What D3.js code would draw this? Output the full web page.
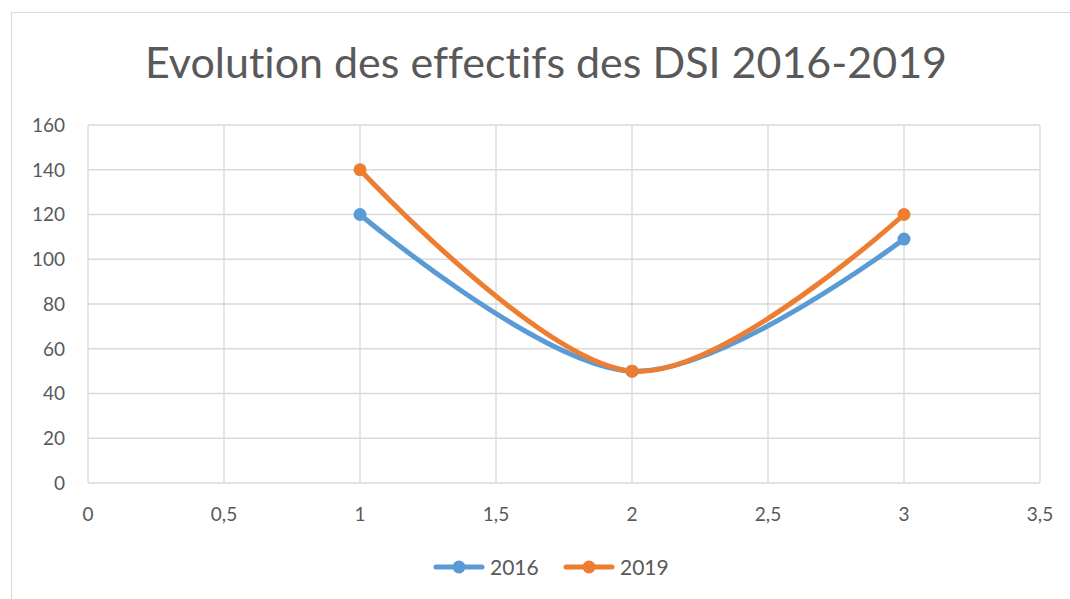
<!DOCTYPE html>
<html>
<head>
<meta charset="utf-8">
<script src="https://cdn.jsdelivr.net/npm/d3@7"></script>
<style>
  body { margin: 0; background: #fff; }
  text { font-family: Lato, "Open Sans", sans-serif; fill: #595959; font-variant-ligatures: none; }
</style>
</head>
<body>
<script>
const width = 1070;
const height = 599;

// data
const xValues = [1, 2, 3];
const series2016 = [120, 50, 109];
const series2019 = [140, 50, 120];
const seriesNames = ["2016", "2019"];
const seriesColors = ["#5B9BD5", "#ED7D31"];
const xTicks = [0, 0.5, 1, 1.5, 2, 2.5, 3, 3.5];
const yTicks = [0, 20, 40, 60, 80, 100, 120, 140, 160];

const margin = {left: 88, right: 30, top: 125, bottom: 116};

const svg = d3.select("body").append("svg")
  .attr("width", width)
  .attr("height", height);

// chart border
svg.append("rect")
  .attr("x", 11.5).attr("y", 12.5)
  .attr("width", width).attr("height", height)
  .attr("fill", "none")
  .attr("stroke", "#d9d9d9");

const x = d3.scaleLinear().domain([0, 3.5]).range([margin.left, width - margin.right]);
const y = d3.scaleLinear().domain([0, 160]).range([height - margin.bottom, margin.top]);

const fmt = d => String(d).replace(".", ",");

// grid
svg.append("g")
  .selectAll("line")
  .data(yTicks)
  .join("line")
  .attr("x1", x(0)).attr("x2", x(3.5))
  .attr("y1", d => y(d)).attr("y2", d => y(d))
  .attr("stroke", "#d9d9d9").attr("stroke-width", 1.3);

svg.append("g")
  .selectAll("line")
  .data(xTicks)
  .join("line")
  .attr("x1", d => x(d)).attr("x2", d => x(d))
  .attr("y1", y(0)).attr("y2", y(160))
  .attr("stroke", "#d9d9d9").attr("stroke-width", 1.3);

// y labels
svg.append("g")
  .selectAll("text")
  .data(yTicks)
  .join("text")
  .attr("x", 65)
  .attr("y", d => y(d))
  .attr("dy", "0.36em")
  .attr("text-anchor", "end")
  .style("font-size", "19px")
  .text(d => d);

// x labels
svg.append("g")
  .selectAll("text")
  .data(xTicks)
  .join("text")
  .attr("x", d => x(d))
  .attr("y", 521)
  .attr("text-anchor", "middle")
  .style("font-size", "19px")
  .text(fmt);

// title
svg.append("text")
  .attr("x", 546)
  .attr("y", 78)
  .attr("text-anchor", "middle")
  .style("font-size", "43px")
  .text("Evolution des effectifs des DSI 2016-2019");

const line = d3.line()
  .x(d => x(d[0]))
  .y(d => y(d[1]))
  .curve(d3.curveCardinal.tension(0));

[series2016, series2019].forEach((vals, i) => {
  const pts = xValues.map((xv, j) => [xv, vals[j]]);
  svg.append("path")
    .datum(pts)
    .attr("d", line)
    .attr("fill", "none")
    .attr("stroke", seriesColors[i])
    .attr("stroke-width", 5)
    .attr("stroke-linecap", "round");
  svg.append("g")
    .selectAll("circle")
    .data(pts)
    .join("circle")
    .attr("cx", d => x(d[0]))
    .attr("cy", d => y(d[1]))
    .attr("r", 6.5)
    .attr("fill", seriesColors[i]);
});

// legend
const legendX = [436, 566];
seriesNames.forEach((name, i) => {
  const g = svg.append("g").attr("transform", `translate(${legendX[i]},567)`);
  g.append("line")
    .attr("x1", 0).attr("x2", 46)
    .attr("stroke", seriesColors[i])
    .attr("stroke-width", 5)
    .attr("stroke-linecap", "round");
  g.append("circle").attr("cx", 23).attr("r", 6.5).attr("fill", seriesColors[i]);
  g.append("text")
    .attr("x", 54)
    .attr("dy", "0.36em")
    .style("font-size", "21px")
    .text(name);
});
</script>
</body>
</html>
